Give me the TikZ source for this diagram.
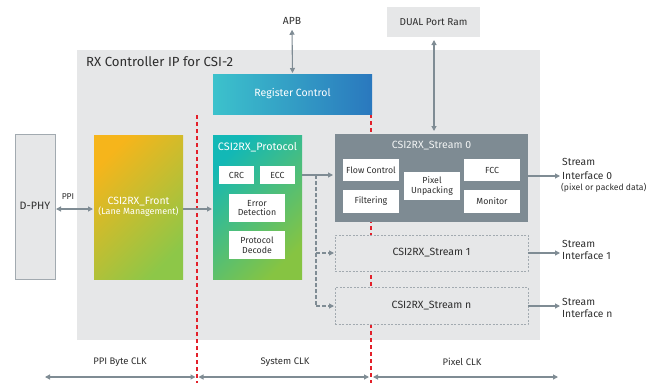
\documentclass[tikz,border=0pt]{standalone}
\usepackage{fontspec}
\setmainfont{Fira Sans}
\usepackage{tikz}
\usetikzlibrary{calc,arrows.meta}
\definecolor{panel}{HTML}{E6E7E8}
\definecolor{edge}{HTML}{A2AAB0}
\definecolor{wire}{HTML}{7F8C94}
\definecolor{slate}{HTML}{7E8B93}
\definecolor{ink}{HTML}{2E2E2E}
\definecolor{clkred}{HTML}{E3202A}
\definecolor{orng}{HTML}{F6B51B}
\definecolor{lime}{HTML}{8DC748}
\definecolor{teal}{HTML}{12B8B6}
\definecolor{grn}{HTML}{86C442}
\definecolor{regL}{HTML}{3CC2CC}
\definecolor{regR}{HTML}{2A78BE}
\tikzset{
  blk/.style={inner sep=0pt, outer sep=0pt, align=center},
  sub/.style={blk, fill=white, text=ink, font=\fontsize{8.8}{9.6}\selectfont},
  lab/.style={text=ink, font=\fontsize{10.3}{11}\selectfont, inner sep=2pt},
  conn/.style={draw=wire, line width=1.1pt, -{Triangle[length=5pt,width=5pt]}},
  bidir/.style={conn, {Triangle[length=5pt,width=5pt]}-{Triangle[length=5pt,width=5pt]}},
  tapline/.style={conn, dashed, dash pattern=on 3.5pt off 2.5pt},
  clkline/.style={draw=clkred, line width=1.1pt, dash pattern=on 4pt off 3pt},
  ghost/.style={blk, draw=edge, line width=0.8pt, dash pattern=on 2pt off 1.5pt, fill=panel},
}
\begin{document}
\begin{tikzpicture}[x=1pt, y=-1pt]
  \useasboundingbox (0,0) rectangle (655,383);
  \node[blk, fill=panel, minimum width=463pt, minimum height=290pt] (ip) at (308.5,195) {};
  \node[anchor=west, text=ink, font=\fontsize{13.2}{14}\selectfont, inner sep=0pt] (iptitle) at (86,62) {RX Controller IP for CSI-2};

  % clock domain borders
  \coordinate (divAtop) at (197,115);
  \coordinate (divAbot) at (197,383);
  \coordinate (divBtop) at (371,114);
  \coordinate (divBbot) at (371,383);
  \draw[clkline] (divAtop) -- (divAbot);
  \draw[clkline] (divBtop) -- (divBbot);

  % outside blocks
  \node[lab] (apb) at (292,21) {APB};
  \node[blk, fill=panel, minimum width=93pt, minimum height=30pt, text=ink, font=\fontsize{10}{11}\selectfont] (dpr) at (433.5,22) {DUAL Port Ram};
  \node[blk, fill=panel, draw=edge, line width=1pt, minimum width=40pt, minimum height=145pt, text=ink, font=\fontsize{10.7}{12}\selectfont] (dphy) at (35,207) {\raisebox{3pt}{D-PHY}};
  \node[lab, font=\fontsize{8.5}{9}\selectfont] (ppi) at (68,197) {PPI};

  % core blocks
  \node[blk, minimum width=159pt, minimum height=40pt, left color=regL, right color=regR, text=white, font=\fontsize{10.5}{12}\selectfont] (reg) at (292.5,94) {Register Control};
  \node[blk, minimum width=89pt, minimum height=144pt, top color=orng, bottom color=lime, shading angle=45, text=white, font=\fontsize{10.5}{12}\selectfont] (front) at (138.5,207) {CSI2RX\_Front\\[-2pt]{\fontsize{9}{10}\selectfont(Lane Management)}};
  \node[blk, minimum width=89pt, minimum height=144pt, top color=teal, bottom color=grn, shading angle=45] (proto) at (257.5,207) {};
  \node[blk, text=white, font=\fontsize{10.8}{12}\selectfont] (protot) at (257.5,147) {CSI2RX\_Protocol};
  \node[sub, minimum width=35pt, minimum height=18pt] (crc) at (236.5,175) {CRC};
  \node[sub, minimum width=35pt, minimum height=18pt] (ecc) at (277.5,175) {ECC};
  \node[sub, minimum width=56pt, minimum height=28pt] (errdet) at (257,208) {Error\\Detection};
  \node[sub, minimum width=56pt, minimum height=28pt] (protdec) at (257,245) {Protocol\\Decode};

  \node[blk, fill=slate, minimum width=193pt, minimum height=88pt] (s0) at (431.5,178) {};
  \node[blk, text=white!90!slate, font=\fontsize{10.5}{12}\selectfont] (s0t) at (431.5,146) {CSI2RX\_Stream 0};
  \node[sub, minimum width=56pt, minimum height=22pt] (flow) at (371,170) {Flow Control};
  \node[sub, minimum width=56pt, minimum height=23pt] (filt) at (371,201.5) {Filtering};
  \node[sub, minimum width=56pt, minimum height=28pt] (unpack) at (432,186) {Pixel\\Unpacking};
  \node[sub, minimum width=56pt, minimum height=22pt] (fcc) at (492,170) {FCC};
  \node[sub, minimum width=56pt, minimum height=23pt] (mon) at (492,201.5) {Monitor};
  \node[ghost, minimum width=193pt, minimum height=36pt, text=ink, font=\fontsize{10.5}{12}\selectfont] (s1) at (431.5,253) {CSI2RX\_Stream 1};
  \node[ghost, minimum width=193pt, minimum height=37pt, text=ink, font=\fontsize{10.5}{12}\selectfont] (sn) at (431.5,306) {CSI2RX\_Stream n};

  % stream interfaces
  \node[lab, anchor=west] (if0) at (560,176) {Interface 0};
  \node[lab, anchor=west] (if0a) at (560,162) {Stream};
  \node[lab, anchor=west, font=\fontsize{8.6}{9}\selectfont] (if0b) at (559,187.5) {(pixel or packed data)};
  \node[lab, anchor=west] (if1) at (560,256) {Interface 1};
  \node[lab, anchor=west] (if1a) at (560,244) {Stream};
  \node[lab, anchor=west] (ifn) at (560,314) {Interface n};
  \node[lab, anchor=west] (ifna) at (560,302) {Stream};

  % connectors
  \draw[bidir, shorten <=3pt, shorten >=1pt] (apb.south) -- (reg.north);
  \draw[bidir, shorten <=3pt, shorten >=3pt] (dpr.south -| s0.north) ++(2.5,0) coordinate (dprx) -- (dprx |- s0.north);
  \draw[bidir, shorten <=1pt, shorten >=1pt] ([yshift=-2pt]dphy.east) -- ([yshift=-2pt]front.west);
  \draw[conn, shorten >=1pt] ([yshift=-2pt]front.east) -- ([yshift=-2pt]proto.west);
  \coordinate (tap) at (316,175);
  \draw[conn, shorten >=2pt] (proto.east |- tap) -- (s0.west |- tap);
  \draw[tapline, -] (tap) -- (tap |- sn.west);
  \draw[tapline, shorten >=1pt] (tap |- s1.west) -- (s1.west);
  \draw[tapline, shorten >=1pt] (tap |- sn.west) -- (sn.west);
  \draw[conn] (s0.east |- if0.west) -- (if0.west);
  \draw[conn] (s1.east) -- (s1.east -| if1.west);
  \draw[conn] (sn.east) -- (sn.east -| ifn.west);

  % clocks
  \node[lab, font=\fontsize{9.5}{10}\selectfont] (ppiclk) at (120,362) {PPI Byte CLK};
  \node[lab, font=\fontsize{9.5}{10}\selectfont] (sysclk) at (285,362) {System CLK};
  \node[lab, font=\fontsize{9.5}{10}\selectfont] (pixclk) at (462,362) {Pixel CLK};
  \coordinate (c0) at (45,377);
  \coordinate (c3) at (558,377);
  \draw[bidir] (c0) -- ([xshift=-1.5pt]divAbot |- c0);
  \draw[bidir] ([xshift=1.5pt]divAbot |- c0) -- ([xshift=-2pt]divBbot |- c0);
  \draw[bidir] ([xshift=2pt]divBbot |- c0) -- (c3);
\end{tikzpicture}
\end{document}
